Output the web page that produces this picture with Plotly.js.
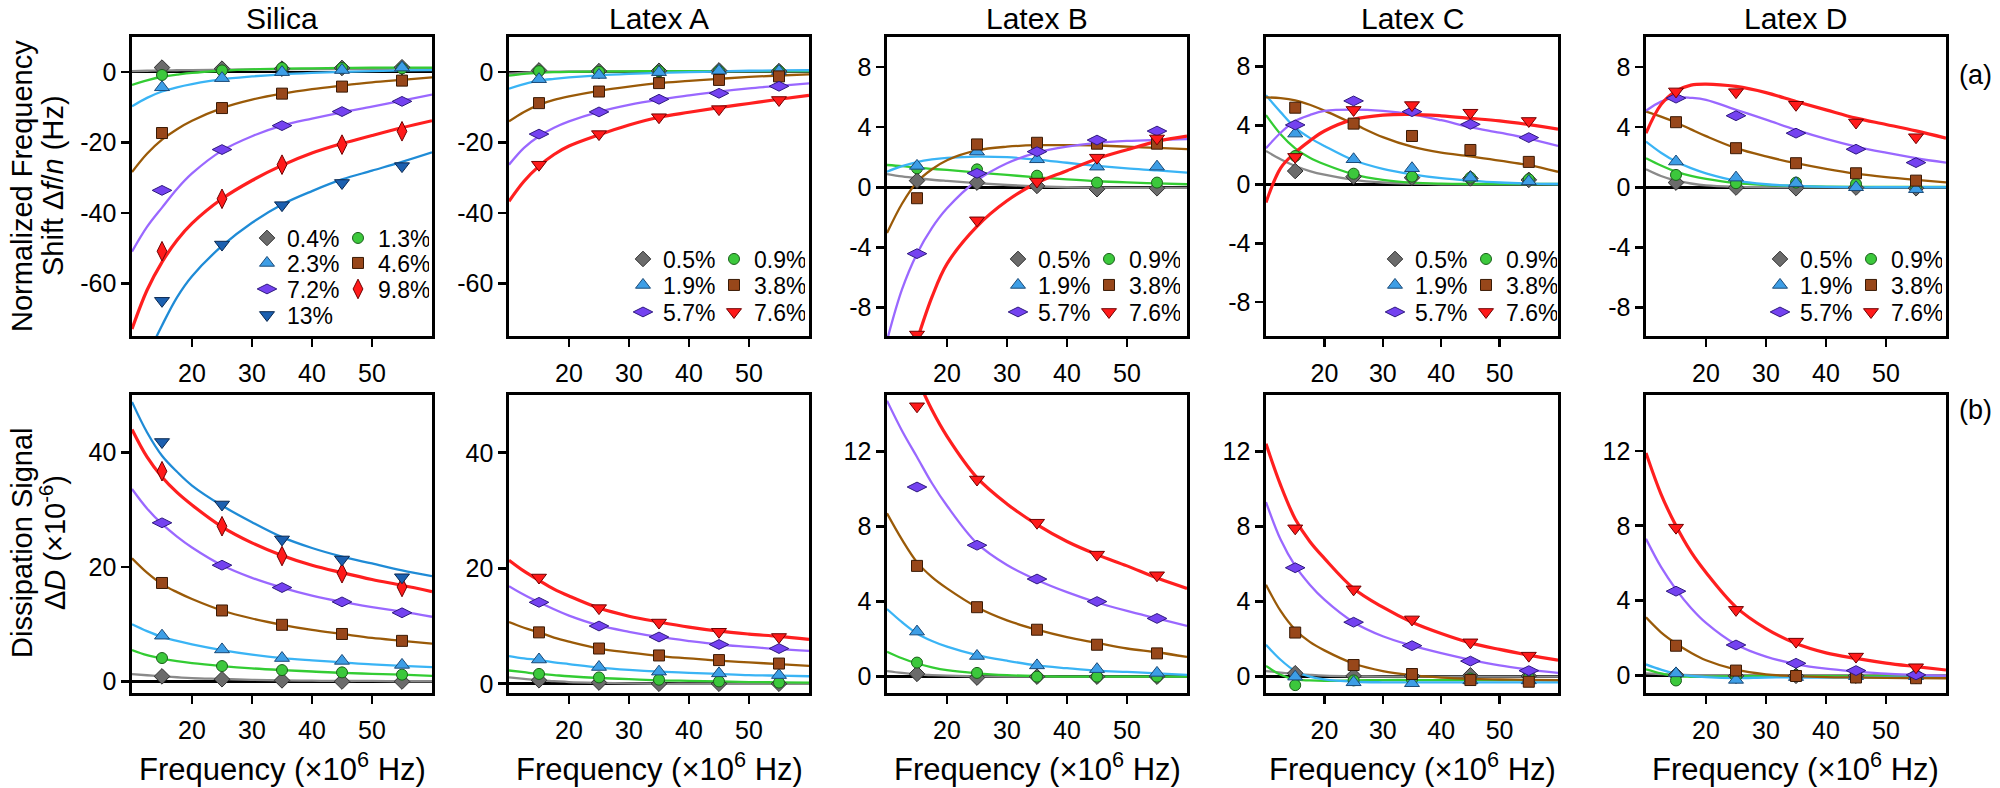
<!DOCTYPE html>
<html><head><meta charset="utf-8">
<script src="https://cdn.plot.ly/plotly-3.0.1.min.js"></script>
<style>html,body{margin:0;padding:0;background:#fff}#chart{width:2000px;height:788px}</style>
</head><body><div id="chart"></div>
<script>
// ---------------- data ----------------
const FREQ = [15, 25, 35, 45, 55];
const FIT_FREQ = [10, 12.5, 15, 17.5, 20, 25, 30, 35, 40, 45, 50, 55, 60];
const PANEL_NAMES = ['Silica', 'Latex A', 'Latex B', 'Latex C', 'Latex D'];
const SILICA_LABELS = ['0.4%', '1.3%', '2.3%', '4.6%', '7.2%', '9.8%', '13%'];
const LATEX_LABELS = ['0.5%', '0.9%', '1.9%', '3.8%', '5.7%', '7.6%'];
const X_TICKVALS = [20, 30, 40, 50];
const X_TICKTEXT = ['20', '30', '40', '50'];
const DF_BIG_TICKVALS = [-60, -40, -20, 0];
const DF_BIG_TICKTEXT = ['-60', '-40', '-20', '0'];
const DF_SMALL_TICKVALS = [-8, -4, 0, 4, 8];
const DF_SMALL_TICKTEXT = ['-8', '-4', '0', '4', '8'];
const DD_BIG_TICKVALS = [0, 20, 40];
const DD_BIG_TICKTEXT = ['0', '20', '40'];
const DD_SMALL_TICKVALS = [0, 4, 8, 12];
const DD_SMALL_TICKTEXT = ['0', '4', '8', '12'];

// (a) normalized frequency shift, measured points
const silicaDfPts = [
  [1.3, 1.0, 1.0, 1.2, 1.4],
  [-0.8, 0.5, 1.2, 1.2, 1.1],
  [-4.3, -1.7, 0.0, 0.6, 1.3],
  [-17.3, -10.2, -6.1, -4.1, -2.4],
  [-33.6, -22.0, -15.2, -11.2, -8.3],
  [-50.9, -36.0, -26.3, -20.6, -16.8],
  [-65.0, -49.0, -37.8, -31.5, -26.7]
];
const silicaDfFit = [
  [0.3, 0.4, 0.5, 0.55, 0.6, 0.7, 0.8, 0.8, 0.9, 0.9, 0.9, 1.0, 1.0],
  [-3.6, -2.3, -1.3, -0.7, -0.2, 0.4, 0.8, 1.0, 1.1, 1.2, 1.3, 1.3, 1.3],
  [-9.7, -7.3, -5.5, -4.3, -3.4, -2.0, -1.2, -0.6, -0.2, 0.1, 0.3, 0.5, 0.6],
  [-28.4, -23.2, -19.2, -16.2, -13.8, -10.2, -7.8, -6.1, -4.8, -3.8, -2.9, -2.2, -1.5],
  [-51, -44, -38.5, -33.2, -28.8, -22.3, -18.2, -15.2, -13.2, -11.4, -9.8, -8.1, -6.4],
  [-73, -62, -54, -47.8, -43, -36, -30.8, -26.5, -23.0, -20.3, -18.0, -15.8, -13.8],
  [-92, -81, -72, -64, -58, -49.4, -42.8, -37.6, -33.8, -30.5, -28.0, -25.5, -22.8]
];
const latexADfPts = [
  [0.5, 0.3, 0.4, 0.5, 0.3],
  [0.3, 0.1, 0.3, 0.3, 0.3],
  [-2.0, -0.8, 0.0, 0.4, 0.3],
  [-8.8, -5.5, -3.1, -2.2, -1.2],
  [-17.6, -11.3, -7.7, -6.0, -4.0],
  [-26.3, -17.6, -12.8, -10.5, -7.9]
];
const latexADfFit = [
  [-0.4, -0.1, 0.1, 0.15, 0.2, 0.2, 0.2, 0.2, 0.2, 0.2, 0.2, 0.2, 0.2],
  [-1.0, -0.5, -0.2, 0.0, 0.1, 0.2, 0.25, 0.3, 0.3, 0.3, 0.3, 0.3, 0.3],
  [-4.7, -3.4, -2.4, -1.9, -1.5, -0.9, -0.5, -0.2, 0.0, 0.2, 0.4, 0.5, 0.55],
  [-14, -11.3, -9.3, -7.9, -6.9, -5.3, -4.1, -3.1, -2.5, -1.9, -1.35, -0.95, -0.6],
  [-26.3, -21.5, -18.2, -15.8, -14.0, -11.3, -9.3, -7.8, -6.6, -5.5, -4.6, -3.9, -3.2],
  [-36.7, -31, -26.7, -23.4, -21, -17.8, -15, -12.8, -11.4, -10.1, -8.9, -7.7, -6.6]
];
const latexBDfPts = [
  [0.44, 0.31, 0.09, -0.13, -0.07],
  [1.26, 1.19, 0.77, 0.31, 0.31],
  [1.42, 2.37, 1.86, 1.37, 1.37],
  [-0.73, 2.85, 2.96, 2.9, 2.9],
  [-4.42, 0.93, 2.37, 3.14, 3.74],
  [-9.8, -2.2, 0.38, 1.97, 3.25]
];
const latexBDfFit = [
  [0.88, 0.72, 0.6, 0.5, 0.42, 0.27, 0.15, 0.06, 0.0, -0.03, -0.04, -0.04, -0.04],
  [1.48, 1.4, 1.3, 1.22, 1.15, 0.98, 0.82, 0.66, 0.52, 0.4, 0.32, 0.26, 0.2],
  [1.04, 1.4, 1.68, 1.85, 1.95, 2.04, 2.0, 1.84, 1.63, 1.42, 1.25, 1.12, 0.97],
  [-3.05, -1.1, 0.35, 1.2, 1.8, 2.45, 2.7, 2.8, 2.8, 2.78, 2.7, 2.62, 2.54],
  [-10.2, -6.8, -4.42, -2.7, -1.4, 0.45, 1.6, 2.3, 2.7, 2.95, 3.08, 3.15, 3.2],
  [-17, -13.5, -10.2, -7.3, -5.1, -2.6, -0.9, 0.3, 1.1, 1.9, 2.5, 3.05, 3.4]
];
const latexCDfPts = [
  [0.9, 0.52, 0.45, 0.4, 0.3],
  [1.92, 0.72, 0.52, 0.45, 0.34],
  [3.44, 1.7, 1.09, 0.45, 0.2],
  [5.2, 4.12, 3.28, 2.33, 1.52],
  [4.03, 5.66, 4.93, 4.07, 3.17],
  [1.86, 5.05, 5.38, 4.86, 4.3]
];
const latexCDfFit = [
  [2.26, 1.7, 1.24, 0.9, 0.65, 0.3, 0.12, 0.04, 0, 0, 0, 0, 0],
  [4.7, 3.4, 2.44, 1.8, 1.36, 0.68, 0.3, 0.11, 0.04, 0.02, 0.02, 0.02, 0.02],
  [6.04, 4.9, 3.85, 3.15, 2.6, 1.63, 1.05, 0.68, 0.42, 0.25, 0.12, 0.05, 0.02],
  [5.9, 5.85, 5.7, 5.4, 5.0, 4.1, 3.2, 2.55, 2.15, 1.9, 1.6, 1.3, 0.85],
  [2.44, 3.5, 4.3, 4.7, 4.98, 5.07, 4.98, 4.75, 4.35, 3.88, 3.5, 3.1, 2.6],
  [-1.24, 1.1, 2.15, 2.95, 3.62, 4.41, 4.7, 4.75, 4.65, 4.48, 4.3, 4.05, 3.75]
];
const latexDDfPts = [
  [0.31, -0.02, -0.07, -0.02, -0.07],
  [0.82, 0.27, 0.31, 0.22, 0.05],
  [1.71, 0.64, 0.27, 0.0, -0.13],
  [4.33, 2.6, 1.6, 0.93, 0.44],
  [5.93, 4.76, 3.6, 2.53, 1.64],
  [6.38, 6.33, 5.49, 4.31, 3.33]
];
const latexDDfFit = [
  [1.2, 0.75, 0.44, 0.25, 0.12, 0.03, 0, 0, 0, 0, 0, 0, 0],
  [1.93, 1.45, 1.04, 0.75, 0.55, 0.27, 0.15, 0.09, 0.04, 0.02, 0.02, 0.02, 0.02],
  [3.04, 2.3, 1.71, 1.27, 0.93, 0.44, 0.2, 0.09, 0.03, 0, 0, 0, 0],
  [5.04, 4.7, 4.31, 3.85, 3.4, 2.6, 2.05, 1.6, 1.22, 0.9, 0.67, 0.49, 0.33],
  [5.09, 5.7, 5.98, 5.95, 5.82, 5.16, 4.5, 3.82, 3.22, 2.71, 2.3, 1.93, 1.64],
  [3.6, 5.5, 6.4, 6.8, 6.87, 6.71, 6.3, 5.71, 5.15, 4.6, 4.18, 3.75, 3.27]
];

// (b) dissipation signal (x10^-6)
const silicaDdPts = [
  [0.9, 0.4, 0.2, 0.0, 0.0],
  [4.1, 2.7, 2.0, 1.6, 1.2],
  [8.0, 5.6, 4.1, 3.6, 2.9],
  [17.2, 12.4, 9.9, 8.3, 7.1],
  [27.7, 20.3, 16.4, 13.9, 12.0],
  [36.7, 27.1, 21.9, 18.9, 16.5],
  [41.8, 30.9, 24.8, 21.3, 18.2]
];
const silicaDdFit = [
  [1.3, 1.1, 0.9, 0.75, 0.6, 0.45, 0.3, 0.2, 0.15, 0.1, 0.1, 0.05, 0.05],
  [5.5, 4.6, 4.0, 3.55, 3.2, 2.7, 2.3, 2.0, 1.75, 1.5, 1.35, 1.2, 1.0],
  [10.0, 8.8, 7.8, 7.1, 6.5, 5.5, 4.7, 4.1, 3.7, 3.35, 3.0, 2.75, 2.5],
  [21.5, 19.0, 17.0, 15.6, 14.4, 12.4, 11.0, 9.9, 9.0, 8.3, 7.6, 7.1, 6.6],
  [33.6, 30.2, 27.5, 25.3, 23.4, 20.3, 18.1, 16.4, 15.0, 13.9, 13.0, 12.2, 11.3],
  [44.0, 39.2, 35.7, 33.0, 30.8, 27.0, 24.2, 22.0, 20.3, 19.0, 17.8, 16.8, 15.7],
  [48.8, 43.5, 39.4, 36.6, 34.2, 30.7, 27.8, 25.2, 23.3, 21.8, 20.6, 19.4, 18.4]
];
const latexADdPts = [
  [0.6, 0.2, 0.0, 0.0, 0.0],
  [1.7, 1.1, 0.7, 0.4, 0.2],
  [4.2, 2.9, 2.1, 1.8, 1.5],
  [8.9, 6.1, 4.9, 4.1, 3.5],
  [14.1, 10.0, 8.1, 6.8, 6.1],
  [18.4, 13.1, 10.6, 9.0, 8.1]
];
const latexADdFit = [
  [1.1, 0.85, 0.6, 0.45, 0.3, 0.15, 0.05, 0, 0, 0, 0, 0, 0],
  [2.3, 2.0, 1.7, 1.5, 1.3, 1.0, 0.8, 0.6, 0.5, 0.4, 0.3, 0.25, 0.2],
  [4.8, 4.4, 4.1, 3.7, 3.4, 2.8, 2.4, 2.1, 1.9, 1.7, 1.5, 1.4, 1.3],
  [10.7, 9.7, 8.9, 8.0, 7.3, 6.1, 5.4, 4.8, 4.4, 4.0, 3.7, 3.4, 3.1],
  [16.9, 15.4, 14.1, 12.9, 11.8, 10.1, 9.0, 8.1, 7.4, 6.8, 6.4, 6.0, 5.7],
  [21.4, 19.5, 17.9, 16.4, 15.2, 13.1, 11.7, 10.7, 9.8, 9.1, 8.6, 8.2, 7.7]
];
const latexBDdPts = [
  [0.15, -0.05, 0.0, 0.0, 0.0],
  [0.75, 0.2, 0.0, 0.0, 0.0],
  [2.4, 1.1, 0.6, 0.4, 0.2],
  [5.9, 3.7, 2.5, 1.7, 1.24],
  [10.1, 7.0, 5.2, 4.0, 3.1],
  [14.4, 10.5, 8.2, 6.5, 5.4]
];
const latexBDdFit = [
  [0.3, 0.2, 0.12, 0.08, 0.05, 0.02, 0, 0, 0, 0, 0, 0, 0],
  [1.33, 0.98, 0.7, 0.5, 0.35, 0.18, 0.08, 0.03, 0, 0, 0, 0, 0],
  [3.6, 2.9, 2.3, 1.9, 1.6, 1.15, 0.85, 0.6, 0.45, 0.32, 0.25, 0.18, 0.1],
  [8.7, 7.3, 6.1, 5.3, 4.7, 3.7, 3.0, 2.5, 2.1, 1.8, 1.5, 1.3, 1.05],
  [14.7, 13.1, 11.7, 10.3, 9.1, 7.1, 5.95, 5.15, 4.5, 3.95, 3.5, 3.1, 2.7],
  [20.0, 17.8, 15.9, 14.2, 12.8, 10.6, 9.2, 8.1, 7.2, 6.5, 5.9, 5.25, 4.7]
];
const latexCDdPts = [
  [0.18, 0.04, 0.04, 0.07, 0.04],
  [-0.45, -0.2, -0.15, -0.1, -0.05],
  [0.0, -0.3, -0.35, -0.2, -0.2],
  [2.35, 0.62, 0.14, -0.18, -0.27],
  [5.8, 2.9, 1.65, 0.83, 0.32],
  [7.9, 4.65, 3.05, 1.83, 1.12]
];
const latexCDdFit = [
  [0.3, 0.22, 0.15, 0.1, 0.06, 0.02, 0, 0, 0, 0, 0, 0, 0],
  [0.57, 0.1, -0.15, -0.2, -0.22, -0.2, -0.18, -0.18, -0.18, -0.18, -0.18, -0.18, -0.18],
  [1.7, 0.9, 0.3, 0.0, -0.15, -0.27, -0.3, -0.3, -0.3, -0.3, -0.3, -0.3, -0.3],
  [4.9, 3.5, 2.5, 1.85, 1.4, 0.7, 0.3, 0.08, -0.05, -0.12, -0.15, -0.17, -0.18],
  [9.3, 7.3, 5.9, 4.9, 4.1, 2.9, 2.15, 1.65, 1.25, 0.9, 0.6, 0.38, 0.2],
  [12.4, 10.2, 8.4, 7.2, 6.3, 4.7, 3.7, 2.9, 2.3, 1.8, 1.45, 1.15, 0.88]
];
const latexDDdPts = [
  [0.02, -0.03, -0.03, -0.02, -0.03],
  [-0.28, -0.07, 0.0, 0.0, 0.0],
  [0.1, -0.25, -0.1, -0.05, -0.05],
  [1.58, 0.25, -0.04, -0.12, -0.16],
  [4.5, 1.62, 0.64, 0.25, 0.02],
  [7.9, 3.5, 1.8, 1.0, 0.43]
];
const latexDDdFit = [
  [0.1, 0.06, 0.03, 0.01, 0, 0, 0, 0, 0, 0, 0, 0, 0],
  [0.32, 0.1, -0.05, -0.08, -0.08, -0.05, -0.05, -0.05, -0.05, -0.05, -0.05, -0.05, -0.05],
  [0.58, 0.3, 0.07, -0.04, -0.1, -0.15, -0.12, -0.12, -0.12, -0.12, -0.12, -0.12, -0.12],
  [3.1, 2.3, 1.7, 1.2, 0.8, 0.3, 0.05, -0.05, -0.1, -0.12, -0.14, -0.15, -0.16],
  [7.3, 5.8, 4.6, 3.6, 2.8, 1.65, 1.0, 0.6, 0.35, 0.2, 0.08, 0.02, -0.03],
  [11.9, 9.7, 8.0, 6.6, 5.5, 3.65, 2.5, 1.7, 1.2, 0.9, 0.65, 0.46, 0.28]
];

// ---------------- styles & layout ----------------
const FONT = 'Liberation Sans, Arial, Helvetica, sans-serif';
const W = 2000, H = 788;
const STY = {
  gray:   {symbol: 'diamond',       fill: '#6b6b6b', edge: '#303030', line: '#8a8a8a', size: 12, lw: 2.3},
  green:  {symbol: 'circle',        fill: '#3cc83c', edge: '#1a5e1a', line: '#33cc33', size: 11, lw: 2.3},
  sky:    {symbol: 'triangle-up',   fill: '#3d9ee6', edge: '#1a4a78', line: '#3ab4f5', size: 13, lw: 2.3},
  brown:  {symbol: 'square',        fill: '#98471a', edge: '#3a1a05', line: '#9a5a08', size: 11, lw: 2.3},
  purple: {symbol: 'diamond-wide',  fill: '#7442f0', edge: '#2f1a80', line: '#9a68ff', size: 14, lw: 2.3},
  redD:   {symbol: 'diamond-tall',  fill: '#ff1a1a', edge: '#700000', line: '#ff1f1f', size: 14, lw: 3.2},
  redT:   {symbol: 'triangle-down', fill: '#ff1a1a', edge: '#700000', line: '#ff1f1f', size: 13, lw: 3.2},
  navy:   {symbol: 'triangle-down', fill: '#1c60b0', edge: '#0a2850', line: '#1f8bd6', size: 13, lw: 2.3}
};
const SILICA_STYLES = [STY.gray, STY.green, STY.sky, STY.brown, STY.purple, STY.redD, STY.navy];
const LATEX_STYLES = [STY.gray, STY.green, STY.sky, STY.brown, STY.purple, STY.redT];

const panels = [
  {labels: SILICA_LABELS, styles: SILICA_STYLES, dfPts: silicaDfPts, dfFit: silicaDfFit, ddPts: silicaDdPts, ddFit: silicaDdFit},
  {labels: LATEX_LABELS, styles: LATEX_STYLES, dfPts: latexADfPts, dfFit: latexADfFit, ddPts: latexADdPts, ddFit: latexADdFit},
  {labels: LATEX_LABELS, styles: LATEX_STYLES, dfPts: latexBDfPts, dfFit: latexBDfFit, ddPts: latexBDdPts, ddFit: latexBDdFit},
  {labels: LATEX_LABELS, styles: LATEX_STYLES, dfPts: latexCDfPts, dfFit: latexCDfFit, ddPts: latexCDdPts, ddFit: latexCDdFit},
  {labels: LATEX_LABELS, styles: LATEX_STYLES, dfPts: latexDDfPts, dfFit: latexDDfFit, ddPts: latexDDdPts, ddFit: latexDDdFit}
];

const PANEL_PX = [[132, 432], [509, 809], [887, 1187], [1266, 1558], [1646, 1946]];
const TOP_PX = [37, 336], BOT_PX = [395, 693];
const TOP_RANGES = [[-75, 10], [-75, 10], [-9.9, 10], [-10.3, 10], [-9.9, 10]];
const BOT_RANGES = [[-2, 50], [-1.6, 50], [-0.87, 15], [-0.87, 15], [-0.95, 15]];
const LEGEND_LEFT = [247, 623, 998, 1375, 1760];
const LEGEND_ROWS = [[238, 263, 289, 315], [259, 285, 312], [259, 285, 312], [259, 285, 312], [259, 285, 312]];

const px2x = v => v / W;
const px2y = v => 1 - v / H;

const traces = [];
const layout = {
  width: W, height: H,
  margin: {l: 0, r: 0, t: 0, b: 0},
  paper_bgcolor: '#ffffff', plot_bgcolor: '#ffffff',
  font: {family: FONT, color: '#000'},
  annotations: []
};

function axisBase() {
  return {
    showline: true, mirror: true, linecolor: '#000', linewidth: 2.6,
    ticks: 'outside', ticklen: 8, tickwidth: 2.6, tickcolor: '#000',
    showgrid: false, zeroline: false,
    tickfont: {family: FONT, size: 25, color: '#000'}
  };
}

let legendCount = 0;
panels.forEach((p, i) => {
  const dom = [px2x(PANEL_PX[i][0]), px2x(PANEL_PX[i][1])];
  ['top', 'bot'].forEach((row, r) => {
    const idx = i + 1 + r * 5;
    const xa = 'xaxis' + (idx === 1 ? '' : idx);
    const ya = 'yaxis' + (idx === 1 ? '' : idx);
    const xr = 'x' + (idx === 1 ? '' : idx);
    const yr = 'y' + (idx === 1 ? '' : idx);
    const ypx = r === 0 ? TOP_PX : BOT_PX;
    layout[xa] = Object.assign(axisBase(), {
      domain: dom, range: [10, 60], anchor: yr,
      tickvals: X_TICKVALS, ticktext: X_TICKTEXT, ticklabelstandoff: 5
    });
    const big = i < 2;
    layout[ya] = Object.assign(axisBase(), {
      domain: [px2y(ypx[1]), px2y(ypx[0])], anchor: xr,
      range: r === 0 ? TOP_RANGES[i] : BOT_RANGES[i],
      tickvals: r === 0 ? (big ? DF_BIG_TICKVALS : DF_SMALL_TICKVALS) : (big ? DD_BIG_TICKVALS : DD_SMALL_TICKVALS),
      ticktext: r === 0 ? (big ? DF_BIG_TICKTEXT : DF_SMALL_TICKTEXT) : (big ? DD_BIG_TICKTEXT : DD_SMALL_TICKTEXT),
      zeroline: true, zerolinecolor: '#000', zerolinewidth: 2.6
    });
    const pts = r === 0 ? p.dfPts : p.ddPts;
    const fit = r === 0 ? p.dfFit : p.ddFit;
    // fit curves
    fit.forEach((vals, k) => {
      const s = p.styles[k];
      traces.push({
        type: 'scatter', mode: 'lines', x: FIT_FREQ, y: vals, xaxis: xr, yaxis: yr,
        line: {color: s.line, width: s.lw, shape: 'spline', smoothing: 1},
        showlegend: false, hoverinfo: 'skip'
      });
    });
    // measured points
    const legIds = [];
    if (r === 0) {
      LEGEND_ROWS[i].forEach((rowY) => {
        legendCount++;
        const id = legendCount === 1 ? 'legend' : 'legend' + legendCount;
        legIds.push(id);
        layout[id] = {
          orientation: 'h', x: px2x(LEGEND_LEFT[i]), xanchor: 'left',
          y: px2y(rowY), yanchor: 'middle',
          bgcolor: 'rgba(0,0,0,0)', borderwidth: 0,
          font: {family: FONT, size: 23, color: '#000'},
          entrywidth: 46, entrywidthmode: 'pixels', itemsizing: 'trace', traceorder: 'normal'
        };
      });
    }
    pts.forEach((vals, k) => {
      const s = p.styles[k];
      const tr = {
        type: 'scatter', mode: 'markers', x: FREQ, y: vals, xaxis: xr, yaxis: yr,
        name: p.labels[k],
        marker: {symbol: s.symbol, size: s.size, color: s.fill, line: {color: s.edge, width: 1}},
        showlegend: r === 0
      };
      if (r === 0) tr.legend = legIds[Math.floor(k / 2)];
      traces.push(tr);
    });
  });
  // panel title
  layout.annotations.push({
    text: PANEL_NAMES[i], xref: 'paper', yref: 'paper',
    x: (dom[0] + dom[1]) / 2, y: px2y(18), xanchor: 'center', yanchor: 'middle',
    showarrow: false, font: {family: FONT, size: 30, color: '#000'}
  });
  // x title under bottom row
  layout.annotations.push({
    text: 'Frequency (×10<sup>6</sup> Hz)', xref: 'paper', yref: 'paper',
    x: (dom[0] + dom[1]) / 2, y: px2y(767), xanchor: 'center', yanchor: 'middle',
    showarrow: false, font: {family: FONT, size: 31, color: '#000'}
  });
});

// y titles and row labels
[
  {t: 'Normalized Frequency', x: 22, y: 186},
  {t: 'Shift Δ<i>f</i>/<i>n</i> (Hz)', x: 53, y: 186},
  {t: 'Dissipation Signal', x: 22, y: 543},
  {t: 'Δ<i>D</i> (×10<sup>-6</sup>)', x: 53, y: 543}
].forEach(a => layout.annotations.push({
  text: a.t, xref: 'paper', yref: 'paper', x: px2x(a.x), y: px2y(a.y),
  xanchor: 'center', yanchor: 'middle', textangle: -90, showarrow: false,
  font: {family: FONT, size: 29, color: '#000'}
}));
[{t: '(a)', y: 75}, {t: '(b)', y: 410}].forEach(a => layout.annotations.push({
  text: a.t, xref: 'paper', yref: 'paper', x: px2x(1975), y: px2y(a.y),
  xanchor: 'center', yanchor: 'middle', showarrow: false,
  font: {family: FONT, size: 27, color: '#000'}
}));

Plotly.newPlot('chart', traces, layout, {displayModeBar: false, staticPlot: true});
</script>
</body></html>
